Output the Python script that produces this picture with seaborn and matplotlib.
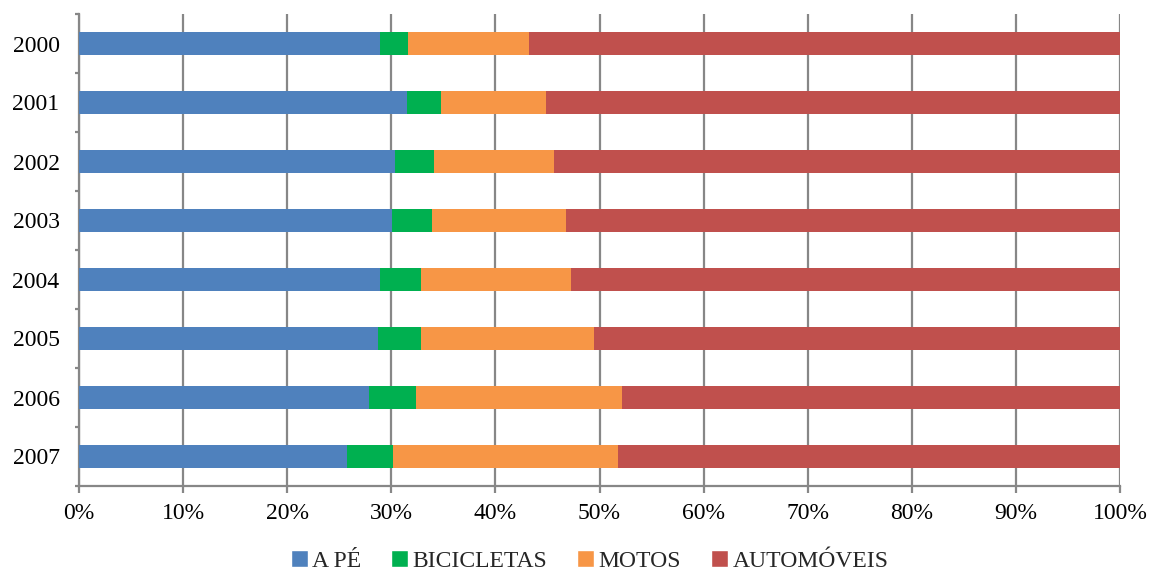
import numpy as np
import pandas as pd
import matplotlib
matplotlib.use("Agg")
import matplotlib.pyplot as plt
import seaborn as sns
from matplotlib.patches import Patch

years = ["2000", "2001", "2002", "2003", "2004", "2005", "2006", "2007"]
a_pe = [28.9, 31.5, 30.4, 30.1, 28.9, 28.7, 27.9, 25.7]
bicicletas = [2.7, 3.3, 3.7, 3.8, 4.0, 4.2, 4.5, 4.5]
motos = [11.6, 10.1, 11.5, 12.9, 14.4, 16.6, 19.8, 21.6]
automoveis = [56.8, 55.1, 54.4, 53.2, 52.7, 50.5, 47.8, 48.2]
series = ["A PÉ", "BICICLETAS", "MOTOS", "AUTOMÓVEIS"]
colors = ["#4F81BD", "#00B050", "#F79646", "#C0504D"]
ticks = np.arange(0, 101, 10)

sns.set_theme(style="white")
plt.rcParams["font.family"] = ["Liberation Serif", "DejaVu Serif"]

df = pd.DataFrame({"year": years, "A PÉ": a_pe, "BICICLETAS": bicicletas,
                   "MOTOS": motos, "AUTOMÓVEIS": automoveis})
cum = df[series].cumsum(axis=1)
cum = cum.div(cum["AUTOMÓVEIS"], axis=0) * 100
cum["year"] = years

fig = plt.figure(figsize=(11.49, 5.74), dpi=100)
ax = fig.add_axes([79 / 1149, 1 - 486 / 574, (1120 - 79) / 1149, (486 - 14) / 574])
# stacked bars: draw cumulative totals, widest first
for name, col in reversed(list(zip(series, colors))):
    sns.barplot(data=cum, x=name, y="year", orient="h", color=col, width=0.39,
                saturation=1, linewidth=0, ax=ax, zorder=3)

ax.set_xlim(0, 100)
ax.set_ylim(7.5, -0.5)
ax.set_xticks(ticks)
ax.set_xticklabels([f"{t}%" for t in ticks])
ax.set_xlabel("")
ax.set_ylabel("")
ax.xaxis.grid(True, color="#878787", lw=1.6, zorder=0)
ax.set_axisbelow(True)
for s in ["top", "right"]:
    ax.spines[s].set_visible(False)
for s in ["left", "bottom"]:
    ax.spines[s].set_color("#878787")
    ax.spines[s].set_linewidth(1.6)
ax.set_yticks(np.arange(-0.5, 8, 1), minor=True)
ax.tick_params(axis="y", which="major", length=0, labelsize=17, pad=14, colors="black")
ax.tick_params(axis="y", which="minor", length=3, width=1.6, color="#878787", direction="out", left=True)
ax.tick_params(axis="x", length=5, width=1.6, color="#878787", direction="out", bottom=True,
               labelsize=17, pad=7, labelcolor="black")

handles = [Patch(facecolor=c, label=n) for n, c in zip(series, colors)]
fig.legend(handles=handles, loc="center", bbox_to_anchor=(0.513, 1 - 561 / 574), ncol=4,
           frameon=False, fontsize=17, handlelength=0.72, handleheight=0.72,
           handletextpad=0.2, columnspacing=1.25)

fig.savefig("out.png", dpi=100)
